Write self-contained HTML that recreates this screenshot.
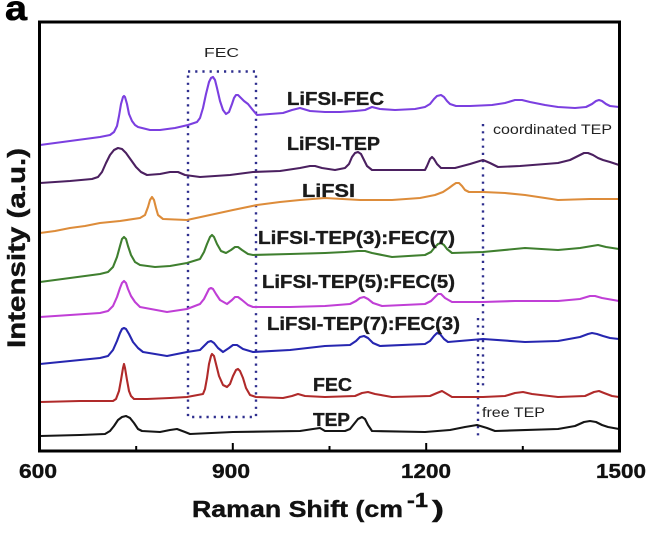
<!DOCTYPE html>
<html><head><meta charset="utf-8"><style>
html,body{margin:0;padding:0;background:#fff;}
svg{display:block;}
text{font-family:"Liberation Sans",Arial,sans-serif;}
</style></head><body>
<svg width="650" height="548" viewBox="0 0 650 548" xmlns="http://www.w3.org/2000/svg">
<rect width="650" height="548" fill="#fff"/>
<!-- panel label -->
<text x="5" y="20" font-size="35" font-weight="bold" textLength="22" lengthAdjust="spacingAndGlyphs" fill="#000" stroke="#000" stroke-width="0.6">a</text>

<!-- dotted annotations -->
<g stroke="#2e2e8e" stroke-width="2.4" fill="none" stroke-dasharray="2.2 5">
<rect x="188" y="71.5" width="68" height="345.5"/>
<line x1="483" y1="124" x2="483" y2="386"/>
<line x1="478" y1="318" x2="478" y2="438"/>
</g>
<text x="204" y="57" font-size="13" textLength="35" lengthAdjust="spacingAndGlyphs" fill="#222">FEC</text>
<text x="493" y="134" font-size="14" textLength="119" lengthAdjust="spacingAndGlyphs" fill="#222">coordinated TEP</text>
<text x="482" y="417" font-size="14" textLength="63" lengthAdjust="spacingAndGlyphs" fill="#222">free TEP</text>

<!-- series -->
<g fill="none" stroke-width="2.1" stroke-linejoin="round" stroke-linecap="round">
<polyline stroke="#7b3fe0" points="40,145 70,141 100,137 110,135 114,132 117,126 119,116 121,104 123,97 124,96 125,97 127,104 129,114 132,121 135,125 138,127 150,130 160,130 175,128 188,125 197,122 200,118 203,108 206,94 209,82 211,78 213,77 215,80 217,88 220,101 223,110 226,114 229,112 232,104 234,98 236,95 238,95 241,98 244,101 248,104 252,109 257,115 270,114 283,113 292,110 300,108 310,111 325,112 340,112 355,111 365,110 372,107 380,109 395,110 415,109 425,107 430,104 434,99 437,96 441,95 444,97 447,101 450,104 456,106 470,106 492,105 505,103 515,100 522,100 530,102 545,105 558,107 575,108 586,107 592,104 596,101 599,100 602,101 606,104 610,106 619,107"/>
<polyline stroke="#4b2060" points="40,183 70,181 92,179 98,177 102,172 106,163 110,155 114,150 118,148 122,149 126,153 131,160 136,167 141,172 147,175 160,174 170,172 178,172 185,175 200,177 230,175 253,172 280,171 300,168 310,166 315,166 322,168 335,170 345,168 349,164 352,157 355,153 358,152 361,154 364,160 367,166 372,170 400,170 425,170 427,166 430,159 432,157 434,159 437,164 441,168 455,168 470,164 483,160 490,163 498,167 520,166 558,163 570,160 578,156 584,153 588,153 593,155 598,158 603,160 610,162 619,165"/>
<polyline stroke="#dd8c3a" points="40,233 55,231 70,228 85,226 100,223 120,221 140,218 145,215 148,207 150,200 152,197 154,200 156,208 158,215 163,219 187,220 210,215 233,210 257,205 280,202 300,200 325,198 360,200 392,200 420,198 435,195 443,192 449,188 453,185 456,183 459,183 462,186 465,190 469,192 483,192 505,193 525,195 545,198 558,200 590,199 619,199"/>
<polyline stroke="#3f7f2f" points="40,282 70,278 100,274 108,272 113,267 117,257 120,246 122,239 124,237 126,239 128,246 131,255 135,262 140,265 155,267 170,266 187,263 200,259 204,252 207,244 210,237 212,235 214,237 217,244 221,251 226,253 231,250 235,247 238,247 242,250 248,254 253,255 290,254 325,253 345,252 358,251 365,251 372,253 392,257 425,255 431,252 435,247 438,244 441,243 444,245 447,249 452,253 483,252 525,248 558,250 580,248 592,246 598,245 606,247 619,249"/>
<polyline stroke="#c03fd6" points="40,317 70,315 100,313 108,311 113,306 117,297 120,288 122,283 124,281 126,283 128,289 131,296 135,302 140,307 167,312 187,309 200,304 204,299 207,293 209,289 211,288 213,289 216,294 220,300 227,304 232,300 235,297 238,297 242,300 248,305 253,307 290,307 325,306 350,304 356,301 360,298 364,297 368,299 373,303 382,306 425,304 431,301 435,297 438,294 441,294 445,298 452,302 483,302 515,301 558,301 580,299 590,296 595,296 602,298 619,301"/>
<polyline stroke="#2626b0" points="40,364 70,361 100,358 108,356 113,350 117,341 120,333 122,329 124,328 126,329 129,334 133,342 138,348 143,352 167,356 187,352 200,350 204,346 208,342 211,341 214,343 218,348 223,352 229,348 233,345 237,345 243,349 253,352 290,350 325,346 350,345 356,341 360,337 364,336 368,338 373,343 380,346 425,344 430,341 434,336 437,333 440,334 444,339 448,342 483,339 525,342 558,341 580,337 588,334 592,333 597,334 603,336 610,338 619,339"/>
<polyline stroke="#b02a2a" points="40,402 80,401 113,401 116,399 119,391 121,380 123,368 124,364 125,368 127,380 129,391 131,396 134,399 147,399 170,398 187,397 203,394 205,389 207,378 209,364 211,356 212,354 214,356 216,364 219,376 223,385 227,387 230,384 233,376 236,370 238,369 240,371 243,378 246,388 250,395 256,397 283,398 292,396 298,394 305,396 325,397 355,396 362,393 368,392 375,394 392,397 430,396 437,393 442,391 447,394 452,397 483,397 505,396 515,393 523,392 532,394 558,397 585,396 594,392 599,391 604,393 612,396 619,397"/>
<polyline stroke="#151515" points="40,436 80,435 105,434 110,431 114,426 118,420 122,417 126,416 130,418 134,423 138,429 142,431 160,432 170,430 177,429 185,432 190,434 233,432 300,431 313,429 320,428 325,431 345,431 350,429 354,424 358,419 362,417 365,419 368,425 372,431 425,432 450,430 465,427 477,425 487,428 495,431 558,429 575,426 584,422 590,421 596,422 602,425 608,427 619,429"/>
</g>

<!-- series labels -->
<g font-size="18" font-weight="bold" fill="#1a1a1a" stroke="#1a1a1a" stroke-width="0.35">
<text x="287" y="105" textLength="97" lengthAdjust="spacingAndGlyphs">LiFSI-FEC</text>
<text x="287" y="150" textLength="93" lengthAdjust="spacingAndGlyphs">LiFSI-TEP</text>
<text x="302" y="197" textLength="53" lengthAdjust="spacingAndGlyphs">LiFSI</text>
<text x="258" y="244" textLength="197" lengthAdjust="spacingAndGlyphs">LiFSI-TEP(3):FEC(7)</text>
<text x="262" y="288" textLength="193" lengthAdjust="spacingAndGlyphs">LiFSI-TEP(5):FEC(5)</text>
<text x="267" y="330" textLength="193" lengthAdjust="spacingAndGlyphs">LiFSI-TEP(7):FEC(3)</text>
<text x="313" y="391" textLength="39" lengthAdjust="spacingAndGlyphs">FEC</text>
<text x="313" y="426" textLength="37" lengthAdjust="spacingAndGlyphs">TEP</text>
</g>

<!-- frame -->
<rect x="39.5" y="22" width="580" height="429" fill="none" stroke="#000" stroke-width="3"/>
<!-- ticks -->
<g stroke="#000" stroke-width="2">
<line x1="232.8" y1="451" x2="232.8" y2="443"/>
<line x1="426.2" y1="451" x2="426.2" y2="443"/>
<line x1="136.2" y1="451" x2="136.2" y2="446"/>
<line x1="329.5" y1="451" x2="329.5" y2="446"/>
<line x1="522.8" y1="451" x2="522.8" y2="446"/>
</g>
<!-- tick labels -->
<g font-size="20" font-weight="bold" fill="#111" stroke="#111" stroke-width="0.35">
<text x="19" y="478" textLength="38" lengthAdjust="spacingAndGlyphs">600</text>
<text x="212" y="478" textLength="38" lengthAdjust="spacingAndGlyphs">900</text>
<text x="401" y="478" textLength="50" lengthAdjust="spacingAndGlyphs">1200</text>
<text x="596" y="478" textLength="50" lengthAdjust="spacingAndGlyphs">1500</text>
</g>
<!-- axis titles -->
<g font-weight="bold" fill="#111" stroke="#111" stroke-width="0.4">
<text x="192" y="517" font-size="23" textLength="211" lengthAdjust="spacingAndGlyphs">Raman Shift (cm</text>
<text x="407" y="507" font-size="20" textLength="21" lengthAdjust="spacingAndGlyphs">-1</text>
<text x="432" y="517" font-size="23" textLength="12" lengthAdjust="spacingAndGlyphs">)</text>
<text transform="translate(25,348) rotate(-90)" x="0" y="0" font-size="25" textLength="200" lengthAdjust="spacingAndGlyphs">Intensity (a.u.)</text>
</g>
</svg>
</body></html>
